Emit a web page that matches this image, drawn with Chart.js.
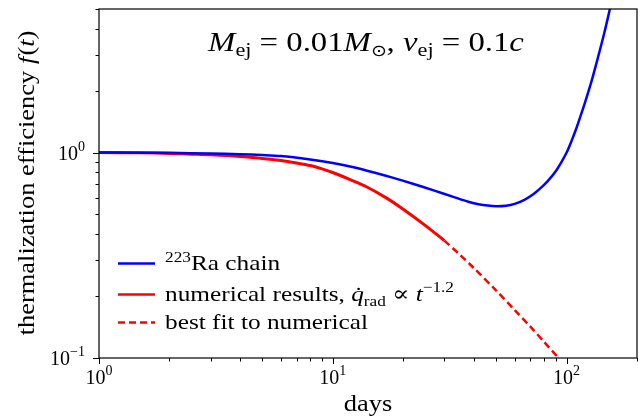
<!DOCTYPE html>
<html>
<head>
<meta charset="utf-8">
<script src="https://cdn.jsdelivr.net/npm/chart.js@4.4.1/dist/chart.umd.min.js"></script>
<style>
  html, body { margin: 0; padding: 0; background: #fff; }
  #chart { display: block; }
</style>
</head>
<body>
<canvas id="chart" width="640" height="419"></canvas>
<script>
// 223Ra chain
const raDays = [1, 1.5, 2, 3, 4, 5, 6, 8, 10, 12, 15, 18, 22, 27, 33, 38, 42, 46, 50, 55, 60, 66, 72, 78, 83, 90, 95, 100, 105, 110, 115, 120, 128, 136, 145, 152, 160];
const raEff = [1.0, 0.999, 0.997, 0.99, 0.982, 0.973, 0.962, 0.925, 0.89, 0.853, 0.80, 0.755, 0.705, 0.655, 0.607, 0.576, 0.561, 0.552, 0.548, 0.551, 0.563, 0.589, 0.627, 0.677, 0.726, 0.813, 0.898, 1.0, 1.14, 1.31, 1.52, 1.76, 2.24, 2.89, 3.83, 4.82, 6.22];

// numerical results
const numDays = [1, 1.5, 2, 2.5, 3, 4, 5, 6, 7, 8, 9, 10, 12, 14, 17, 20, 25, 30];
const numEff = [1.0, 0.997, 0.99, 0.982, 0.975, 0.958, 0.937, 0.915, 0.89, 0.865, 0.833, 0.80, 0.735, 0.68, 0.60, 0.53, 0.44, 0.373];

// best fit (shown past the end of the numerical run)
const fitDays = [30, 35, 40, 50, 60, 70, 80, 92, 100];
const fitEff = [0.373, 0.318, 0.275, 0.213, 0.171, 0.142, 0.12, 0.1005, 0.0905];

// ticks
const xMajor = [1, 10, 100];
const xMajorExp = ['0', '1', '2'];
const xMinor = [2, 3, 4, 5, 6, 7, 8, 9, 20, 30, 40, 50, 60, 70, 80, 90, 200];
const yMajor = [0.1, 1];
const yMajorExp = ['\u22121', '0'];
const yMinor = [0.2, 0.3, 0.4, 0.5, 0.6, 0.7, 0.8, 0.9, 2, 3, 4, 5];

const SERIF = '"Liberation Serif", "DejaVu Serif", serif';

function pts(xs, ys) {
    return xs.map((x, i) => ({ x: x, y: ys[i] }));
}

// draw a run of text pieces with different fonts / offsets, sx stretches along the baseline
function drawParts(ctx, parts, x, y, align, sx) {
    sx = sx || 1;
    let w = 0;
    parts.forEach(p => {
        ctx.font = p.font;
        w += (ctx.measureText(p.t).width + (p.gap || 0)) * sx;
    });
    let cx = x;
    if (align === 'center') cx = x - w / 2;
    if (align === 'right') cx = x - w;
    ctx.textAlign = 'left';
    parts.forEach(p => {
        ctx.font = p.font;
        ctx.save();
        ctx.translate(cx, y + (p.dy || 0));
        ctx.scale(sx, 1);
        ctx.fillText(p.t, 0, 0);
        ctx.restore();
        cx += (ctx.measureText(p.t).width + (p.gap || 0)) * sx;
    });
}

const decorations = {
    id: 'decorations',
    afterDraw(chart) {
        const ctx = chart.ctx;
        const area = chart.chartArea;
        const xs = chart.scales.x;
        const ys = chart.scales.y;
        ctx.save();

        // frame
        ctx.strokeStyle = '#000';
        ctx.lineWidth = 1.2;
        ctx.strokeRect(area.left, area.top, area.right - area.left, area.bottom - area.top);

        // tick marks
        ctx.lineWidth = 1;
        ctx.beginPath();
        xMajor.concat(xMinor).forEach(v => {
            const len = xMajor.includes(v) ? 6 : 3.5;
            const px = Math.round(xs.getPixelForValue(v)) + 0.5;
            ctx.moveTo(px, area.bottom);
            ctx.lineTo(px, area.bottom + len);
        });
        yMajor.concat(yMinor).forEach(v => {
            const len = yMajor.includes(v) ? 6 : 3.5;
            const py = Math.round(ys.getPixelForValue(v)) + 0.5;
            ctx.moveTo(area.left, py);
            ctx.lineTo(area.left - len, py);
        });
        ctx.stroke();

        ctx.fillStyle = '#000';
        ctx.textBaseline = 'alphabetic';

        // tick labels
        xMajor.forEach((v, i) => {
            drawParts(ctx, [
                { t: '10', font: '20px ' + SERIF },
                { t: xMajorExp[i], font: '14px ' + SERIF, dy: -9 }
            ], xs.getPixelForValue(v), area.bottom + 26, 'center');
        });
        yMajor.forEach((v, i) => {
            drawParts(ctx, [
                { t: '10', font: '20px ' + SERIF },
                { t: yMajorExp[i], font: '14px ' + SERIF, dy: -9 }
            ], area.left - 14, ys.getPixelForValue(v) + 7, 'right');
        });

        // axis titles
        drawParts(ctx, [{ t: 'days', font: '23px ' + SERIF }], (area.left + area.right) / 2, 411, 'center', 1.15);

        ctx.save();
        ctx.translate(34, 183);
        ctx.rotate(-Math.PI / 2);
        drawParts(ctx, [
            { t: 'thermalization efficiency ', font: '23px ' + SERIF },
            { t: 'f', font: 'italic 23px ' + SERIF, gap: 1 },
            { t: '(', font: '23px ' + SERIF },
            { t: 't', font: 'italic 23px ' + SERIF },
            { t: ')', font: '23px ' + SERIF }
        ], 0, 0, 'center', 1.15);
        ctx.restore();

        // annotation
        const big = '28px ' + SERIF;
        const bigIt = 'italic 28px ' + SERIF;
        const sub = '19px ' + SERIF;
        drawParts(ctx, [
            { t: 'M', font: bigIt },
            { t: 'ej', font: sub, dy: 5 },
            { t: ' = 0.01', font: big },
            { t: 'M', font: bigIt },
            { t: '\u2299', font: '16px "DejaVu Sans", sans-serif', dy: 5 },
            { t: ', ', font: big },
            { t: 'v', font: bigIt },
            { t: 'ej', font: sub, dy: 5 },
            { t: ' = 0.1', font: big },
            { t: 'c', font: bigIt }
        ], 366, 51, 'center', 1.17);

        // legend
        const ds = chart.data.datasets;
        const rows = [263, 294, 322];
        const labels = [
            [
                { t: '223', font: '15px ' + SERIF, dy: -8 },
                { t: 'Ra chain', font: '22px ' + SERIF }
            ],
            [
                { t: 'numerical results, ', font: '22px ' + SERIF },
                { t: 'q\u0307', font: 'italic 22px ' + SERIF },
                { t: 'rad', font: '15px ' + SERIF, dy: 5 },
                { t: ' \u221d ', font: '22px ' + SERIF },
                { t: 't', font: 'italic 22px ' + SERIF },
                { t: '\u22121.2', font: '15px ' + SERIF, dy: -9 }
            ],
            [
                { t: 'best fit to numerical', font: '22px ' + SERIF }
            ]
        ];
        rows.forEach((ry, i) => {
            ctx.save();
            ctx.strokeStyle = ds[i].borderColor;
            ctx.lineWidth = 2.5;
            ctx.setLineDash(ds[i].borderDash || []);
            ctx.beginPath();
            ctx.moveTo(118, ry + 0.5);
            ctx.lineTo(155, ry + 0.5);
            ctx.stroke();
            ctx.restore();
            ctx.fillStyle = '#000';
            drawParts(ctx, labels[i], 165, ry + 7, 'left', 1.15);
        });

        ctx.restore();
    }
};

const chart = new Chart(document.getElementById('chart'), {
    type: 'line',
    data: {
        datasets: [
            {
                label: '223Ra chain',
                data: pts(raDays, raEff),
                borderColor: '#0000ff',
                borderWidth: 2.5,
                pointRadius: 0,
                tension: 0.3,
                fill: false
            },
            {
                label: 'numerical results',
                data: pts(numDays, numEff),
                borderColor: '#ff0000',
                borderWidth: 3,
                pointRadius: 0,
                tension: 0.3,
                fill: false
            },
            {
                label: 'best fit to numerical',
                data: pts(fitDays, fitEff),
                borderColor: '#ff0000',
                borderWidth: 2.5,
                borderDash: [7, 4],
                pointRadius: 0,
                tension: 0.3,
                fill: false
            }
        ]
    },
    options: {
        responsive: false,
        animation: false,
        layout: { padding: { top: 9, right: 3, left: 0, bottom: 0 } },
        plugins: {
            legend: { display: false },
            tooltip: { enabled: false }
        },
        scales: {
            x: {
                type: 'logarithmic',
                min: 1,
                max: 200,
                grid: { display: false },
                border: { display: false },
                ticks: { display: false },
                afterFit: s => { s.height = 61; }
            },
            y: {
                type: 'logarithmic',
                min: 0.1,
                max: 5,
                grid: { display: false },
                border: { display: false },
                ticks: { display: false },
                afterFit: s => { s.width = 99; }
            }
        }
    },
    plugins: [decorations]
});
</script>
</body>
</html>
